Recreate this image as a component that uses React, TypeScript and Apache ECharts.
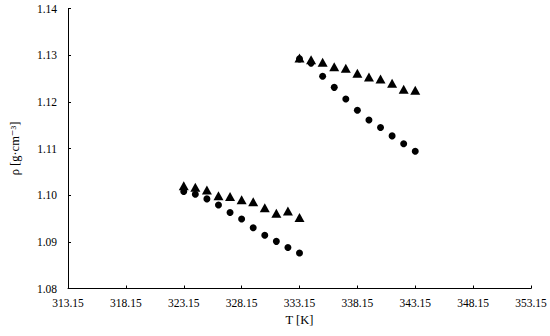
import React, { useEffect, useRef } from "react";
import * as echarts from "echarts";

const tempLow = [323.15, 324.15, 325.15, 326.15, 327.15, 328.15, 329.15, 330.15, 331.15, 332.15, 333.15];
const tempHigh = [333.15, 334.15, 335.15, 336.15, 337.15, 338.15, 339.15, 340.15, 341.15, 342.15, 343.15];

const triangleLow = [1.1020, 1.1017, 1.1011, 1.0999, 1.0997, 1.0990, 1.0986, 1.0973, 1.0961, 1.0966, 1.0952];
const circleLow = [1.1008, 1.1002, 1.0992, 1.0979, 1.0963, 1.0949, 1.0930, 1.0914, 1.0901, 1.0888, 1.0876];
const triangleHigh = [1.1294, 1.1290, 1.1285, 1.1275, 1.1272, 1.1261, 1.1253, 1.1249, 1.1240, 1.1227, 1.1225];
const circleHigh = [1.1292, 1.1283, 1.1255, 1.1231, 1.1206, 1.1182, 1.1161, 1.1145, 1.1127, 1.1110, 1.1094];

const xMin = 313.15;
const xMax = 353.15;
const xStep = 5;
const yMin = 1.08;
const yMax = 1.14;
const yStep = 0.01;

const FONT = "'Liberation Serif', 'DejaVu Serif', serif";

export default function App() {
  const ref = useRef<HTMLDivElement>(null);
  useEffect(() => {
    if (!ref.current) return;
    const chart = echarts.init(ref.current, null, { renderer: "svg" });
    const pair = (xs: number[], ys: number[]) => xs.map((x, i) => [x, ys[i]]);
    const axisCommon = {
      axisLine: { show: true, onZero: false, lineStyle: { color: "#000", width: 1 } },
      axisTick: { show: true, inside: true, length: 3, lineStyle: { color: "#000" } },
      splitLine: { show: false },
    };
    chart.setOption({
      animation: false,
      backgroundColor: "#fff",
      textStyle: { fontFamily: FONT },
      grid: { left: 63, right: 19, top: 8.5, bottom: 47.5, containLabel: false },
      xAxis: {
        type: "value",
        min: xMin,
        max: xMax,
        interval: xStep,
        name: "T [K]",
        nameLocation: "middle",
        nameGap: 25,
        nameTextStyle: { fontFamily: FONT, fontSize: 12.5, color: "#000" },
        axisLabel: {
          fontFamily: FONT,
          fontSize: 11.5,
          color: "#000",
          margin: 8,
          formatter: (v: number) => v.toFixed(2),
        },
        ...axisCommon,
      },
      yAxis: {
        type: "value",
        min: yMin,
        max: yMax,
        interval: yStep,
        name: "ρ [g·cm⁻³]",
        nameLocation: "middle",
        nameGap: 47,
        nameTextStyle: { fontFamily: FONT, fontSize: 12.5, color: "#000" },
        axisLabel: {
          fontFamily: FONT,
          fontSize: 11.5,
          color: "#000",
          margin: 11,
          formatter: (v: number) => v.toFixed(2),
        },
        ...axisCommon,
      },
      series: [
        {
          name: "circles",
          type: "scatter",
          symbol: "circle",
          symbolSize: 7,
          itemStyle: { color: "#000", opacity: 1 },
          data: [...pair(tempLow, circleLow), ...pair(tempHigh, circleHigh)],
        },
        {
          name: "triangles",
          type: "scatter",
          symbol: "triangle",
          symbolSize: [10, 9],
          itemStyle: { color: "#000", opacity: 1 },
          data: [...pair(tempLow, triangleLow), ...pair(tempHigh, triangleHigh)],
        },
      ],
    });
    return () => chart.dispose();
  }, []);
  return (
    <div
      ref={ref}
      style={{ position: "fixed", left: 0, top: 0, width: 550, height: 336, background: "#fff" }}
    />
  );
}
